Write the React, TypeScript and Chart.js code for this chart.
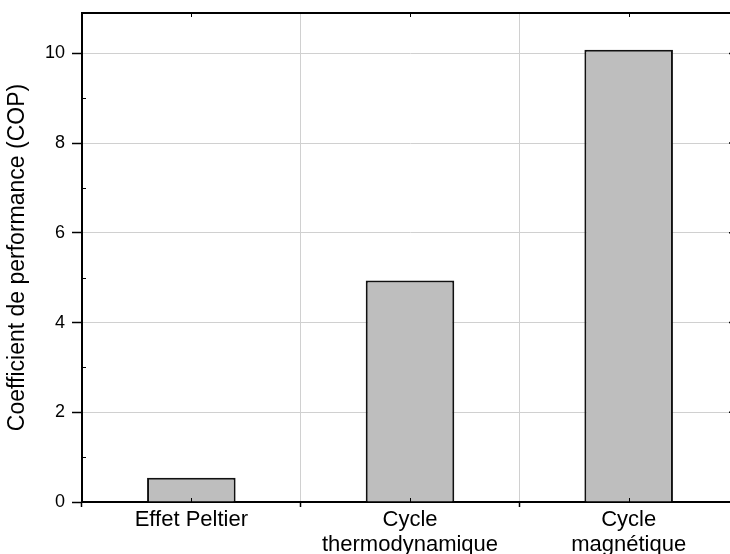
import { useEffect, useRef } from "react";
import { Chart, registerables } from "chart.js";

Chart.register(...registerables);

// Cooling technologies and their coefficient of performance
const categories: string[][] = [["Effet Peltier"], ["Cycle", "thermodynamique"], ["Cycle", "magnétique"]];
const copValues = [0.54, 4.94, 10.08];
const yMajorTicks = [0, 2, 4, 6, 8, 10];
const yMinorTicks = [1, 3, 5, 7, 9];
const yAxisTitle = "Coefficient de performance (COP)";
const yMax = 10.9;

const FONT = "'Liberation Sans', Arial, Helvetica, sans-serif";

// Closed frame plus the small inner ticks (minor ticks, mirrored ticks on the right/top)
const framePlugin = {
  id: "frameTicks",
  afterDraw(chart: Chart) {
    const { ctx, chartArea, scales } = chart;
    const { left, right, top, bottom } = chartArea;
    const x = scales.x;
    const y = scales.y;
    ctx.save();
    ctx.strokeStyle = "#000";
    ctx.lineWidth = 2;
    ctx.beginPath();
    ctx.moveTo(left - 1, top);
    ctx.lineTo(right, top);
    ctx.lineTo(right, bottom);
    ctx.stroke();

    ctx.lineWidth = 1;
    ctx.beginPath();
    for (const v of yMinorTicks) {
      const py = Math.round(y.getPixelForValue(v)) + 0.5;
      ctx.moveTo(left, py);
      ctx.lineTo(left + 4, py);
      ctx.moveTo(right, py);
      ctx.lineTo(right - 4, py);
    }
    ctx.stroke();

    ctx.lineWidth = 1.5;
    ctx.beginPath();
    for (const v of yMajorTicks) {
      const py = y.getPixelForValue(v);
      ctx.moveTo(right, py);
      ctx.lineTo(right - 9, py);
    }
    ctx.stroke();

    ctx.lineWidth = 1;
    ctx.beginPath();
    categories.forEach((_, i) => {
      const px = Math.round(x.getPixelForValue(i)) + 0.5;
      ctx.moveTo(px, bottom);
      ctx.lineTo(px, bottom - 4);
      ctx.moveTo(px, top);
      ctx.lineTo(px, top + 4);
    });
    ctx.stroke();
    ctx.restore();
  },
};

export default function App() {
  const canvasRef = useRef<HTMLCanvasElement | null>(null);

  useEffect(() => {
    const canvas = canvasRef.current;
    if (!canvas) return;
    Chart.defaults.font.family = FONT;
    const chart = new Chart(canvas, {
      type: "bar",
      data: {
        labels: categories,
        datasets: [
          {
            data: copValues,
            backgroundColor: "#bebebe",
            borderColor: "#111111",
            borderWidth: 2,
            barPercentage: 0.405,
            categoryPercentage: 1,
          },
        ],
      },
      plugins: [framePlugin],
      options: {
        responsive: false,
        animation: false,
        devicePixelRatio: 1,
        layout: { padding: { top: 13, right: 12, left: 0, bottom: 0 } },
        plugins: {
          legend: { display: false },
          tooltip: { enabled: false },
        },
        scales: {
          x: {
            offset: true,
            grid: {
              offset: true,
              color: "#d0d0d0",
              lineWidth: 1,
              tickColor: "#000",
              tickLength: 5,
              tickWidth: 1.5,
            },
            border: { color: "#000", width: 2 },
            ticks: {
              color: "#000",
              padding: 0,
              maxRotation: 0,
              autoSkip: false,
              font: { size: 22, family: FONT, lineHeight: 1.15 },
            },
            afterFit(scale: any) {
              scale.height = 52;
            },
          },
          y: {
            min: 0,
            max: yMax,
            grid: {
              color: "#d0d0d0",
              lineWidth: 1,
              tickColor: "#000",
              tickLength: 10,
              tickWidth: 1.5,
            },
            border: { color: "#000", width: 2 },
            afterBuildTicks(scale: any) {
              scale.ticks = yMajorTicks.map((v) => ({ value: v }));
            },
            ticks: {
              color: "#000",
              padding: 7,
              font: { size: 18, family: FONT },
            },
            title: {
              display: true,
              text: yAxisTitle,
              color: "#000",
              font: { size: 23, family: FONT },
              padding: { top: 4, bottom: 0 },
            },
            afterFit(scale: any) {
              scale.width = 82;
              scale.paddingTop = 0;
              scale.paddingBottom = 0;
            },
          },
        },
      },
    });
    return () => chart.destroy();
  }, []);

  return (
    <div
      style={{
        position: "fixed",
        left: 0,
        top: 0,
        width: 730,
        height: 554,
        overflow: "hidden",
        background: "#fff",
      }}
    >
      <canvas ref={canvasRef} width={750} height={554} style={{ display: "block" }} />
    </div>
  );
}
